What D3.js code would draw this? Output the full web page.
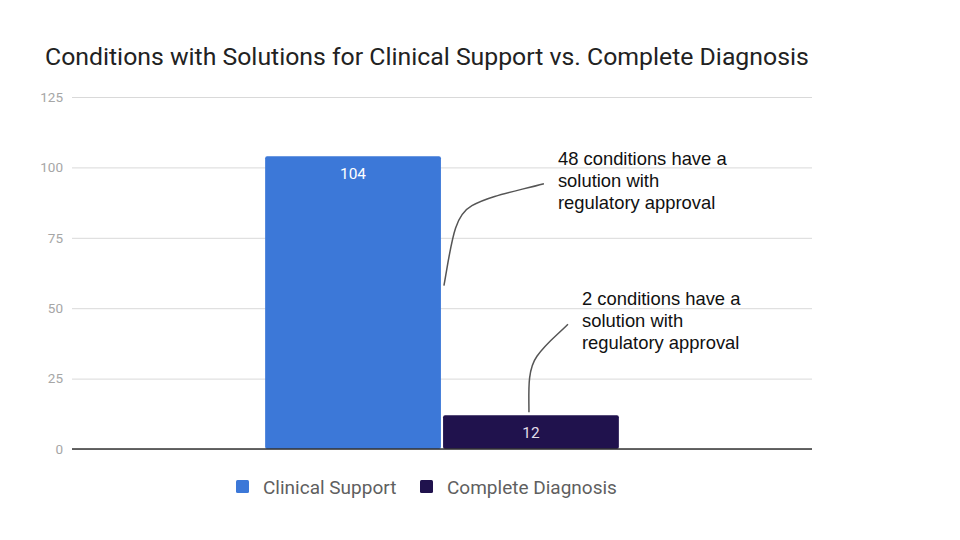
<!DOCTYPE html>
<html>
<head>
<meta charset="utf-8">
<script src="https://cdn.jsdelivr.net/npm/d3@7"></script>
<style>
  body { margin: 0; background: #fff; }
  svg { display: block; }
</style>
</head>
<body>
<div id="chart"></div>
<script>
var series = ['Clinical Support', 'Complete Diagnosis'];
var values = [104, 12];
var colors = ['#3c78d8', '#20124d'];
var yTicks = [0, 25, 50, 75, 100, 125];
var notes = [
    {series: 'Clinical Support', at: 58, lines: ['48 conditions have a', 'solution with', 'regulatory approval']},
    {series: 'Complete Diagnosis', at: 12, lines: ['2 conditions have a', 'solution with', 'regulatory approval']}
];

var W = 960, H = 540;
var margin = {top: 97, right: 148, bottom: 91, left: 72};
var width = W - margin.left - margin.right,
    height = H - margin.top - margin.bottom;

var svg = d3.select('#chart').append('svg')
    .attr('width', W)
    .attr('height', H)
    .style('font-family', 'Roboto, sans-serif');

// title
svg.append('text')
    .attr('x', 45)
    .attr('y', 65)
    .attr('font-size', 24.8)
    .attr('fill', '#222')
    .text('Conditions with Solutions for Clinical Support vs. Complete Diagnosis');

var g = svg.append('g')
    .attr('transform', `translate(${margin.left}, ${margin.top})`);

var yScale = d3.scaleLinear()
    .domain([0, 125])
    .range([height, 0]);

// one category, two series side by side in the middle of the plot
var groupW = width * 0.478;
var xScale = d3.scaleBand()
    .domain(series)
    .range([(width - groupW) / 2, (width + groupW) / 2])
    .paddingInner(0.012);

// grid + y labels
var yAxis = d3.axisLeft(yScale)
    .tickValues(yTicks)
    .tickSize(-width)
    .tickPadding(9);

g.append('g')
    .call(yAxis)
    .call(a => a.select('.domain').remove())
    .call(a => a.selectAll('.tick line').attr('stroke', '#d9d9d9').attr('stroke-width', 1))
    .call(a => a.selectAll('.tick text')
        .attr('fill', '#a6a6a6')
        .attr('font-size', 13.5)
        .attr('font-family', 'Roboto, sans-serif'));

// bars
g.selectAll('.bar')
    .data(series)
    .enter().append('rect')
    .attr('class', 'bar')
    .attr('x', d => xScale(d))
    .attr('y', (d, i) => yScale(values[i]))
    .attr('width', xScale.bandwidth())
    .attr('height', (d, i) => height - yScale(values[i]))
    .attr('rx', 2)
    .attr('fill', (d, i) => colors[i]);

// baseline
g.append('line')
    .attr('x1', 0)
    .attr('x2', width)
    .attr('y1', yScale(0))
    .attr('y2', yScale(0))
    .attr('stroke', '#333')
    .attr('stroke-width', 1.5);

// value labels
g.selectAll('.val')
    .data(series)
    .enter().append('text')
    .attr('class', 'val')
    .attr('x', d => xScale(d) + xScale.bandwidth() / 2)
    .attr('y', (d, i) => yScale(values[i]) + 23)
    .attr('text-anchor', 'middle')
    .attr('font-size', 15.4)
    .attr('fill', (d, i) => i == 0 ? '#ffffff' : '#e0dde8')
    .text((d, i) => values[i]);

// annotations
notes.forEach((n, i) => {
    var x0, y0, x1, y1, path;
    if (i == 0) {
        x0 = xScale(n.series) + xScale.bandwidth() + 3;
        y0 = yScale(n.at);
        x1 = x0 + 100;
        y1 = y0 - 102;
        path = `M${x0},${y0} C${x0 + 8},${y0 - 45} ${x0 + 10},${y0 - 70} ${x0 + 28},${y0 - 80} S${x1 - 30},${y1 + 8} ${x1},${y1}`;
    } else {
        x0 = xScale(n.series) + xScale.bandwidth() / 2 - 2;
        y0 = yScale(n.at) - 3;
        x1 = x0 + 39;
        y1 = y0 - 88;
        path = `M${x0},${y0} C${x0},${y0 - 20} ${x0 - 2},${y0 - 42} ${x0 + 8},${y0 - 56} S${x1 - 12},${y1 + 12} ${x1},${y1}`;
    }
    g.append('path')
        .attr('d', path)
        .attr('fill', 'none')
        .attr('stroke', '#555')
        .attr('stroke-width', 1.5);

    var t = g.append('text')
        .attr('x', x1 + 14)
        .attr('y', y1 - 19)
        .attr('font-family', 'Liberation Sans, Arial, sans-serif')
        .attr('font-size', 18.4)
        .attr('fill', '#111');
    n.lines.forEach((l, j) => {
        t.append('tspan')
            .attr('x', x1 + 14)
            .attr('dy', j == 0 ? 0 : 22)
            .text(l);
    });
});

// legend
var legend = svg.append('g')
    .attr('transform', 'translate(236, 480)');
var lx = [0, 184];
series.forEach((s, i) => {
    var item = legend.append('g').attr('transform', `translate(${lx[i]}, 0)`);
    item.append('rect')
        .attr('width', 13)
        .attr('height', 13)
        .attr('rx', 1.5)
        .attr('fill', colors[i]);
    item.append('text')
        .attr('x', 27)
        .attr('y', 13.5)
        .attr('font-size', 19)
        .attr('fill', '#5f5f5f')
        .text(s);
});
</script>
</body>
</html>
